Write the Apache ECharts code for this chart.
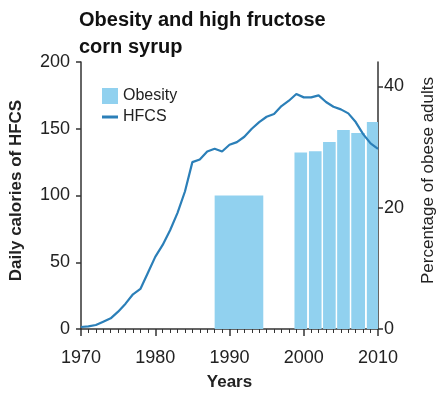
<!DOCTYPE html>
<html>
<head>
<meta charset="utf-8">
<script src="https://cdn.jsdelivr.net/npm/echarts@6/dist/echarts.min.js"></script>
<style>
  html, body { margin: 0; padding: 0; background: #fff; }
  #chart { width: 445px; height: 397px; }
</style>
</head>
<body>
<div id="chart"></div>
<script>
// HFCS daily calories, one value per year 1970..2010
const hfcsYears = [];
for (let y = 1970; y <= 2010; y++) hfcsYears.push(y);
const hfcsValues = [
    1.5, 2, 3, 5.5, 8, 13, 19, 26, 30, 42,
    54, 63, 74, 87, 103, 125, 127, 133, 135, 133,
    138, 140, 144, 150, 155, 159, 161, 167, 171, 176,
    173.5, 173.5, 175, 170, 166.5, 164.5, 161.5, 155, 146, 139,
    135
];

// obesity survey periods (start year, end year) and percentage
const obesityStart = [1988, 1998.75, 2000.7, 2002.6, 2004.5, 2006.4, 2008.5];
const obesityEnd = [1994.55, 2000.45, 2002.4, 2004.3, 2006.2, 2008.25, 2010];
const obesityValues = [22, 29.1, 29.3, 30.8, 32.8, 32.3, 34.1];

const xTicks = [1970, 1980, 1990, 2000, 2010];
const leftTicks = [0, 50, 100, 150, 200];
const rightTicks = [0, 20, 40];

const font = 'Liberation Sans, Arial, sans-serif';
const axisColor = '#333';
const textColor = '#222';
const barColor = '#91d1ef';
const lineColor = '#2b7fb8';

function getOption() {
    const lineData = hfcsYears.map((y, i) => [y, hfcsValues[i]]);
    const barData = obesityStart.map((s, i) => [s, obesityEnd[i], obesityValues[i]]);

    return {
        animation: false,
        textStyle: { fontFamily: font },
        title: {
            text: 'Obesity and high fructose\ncorn syrup',
            left: 74,
            top: 2,
            textStyle: {
                fontSize: 20,
                fontWeight: 'bold',
                color: '#111',
                lineHeight: 27,
                fontFamily: font,
            },
        },
        legend: [
            {
                left: 97,
                top: 83,
                itemWidth: 16,
                itemHeight: 16,
                textStyle: { fontSize: 16, color: textColor },
                data: [{ name: 'Obesity', icon: 'rect' }],
            },
            {
                left: 97,
                top: 104,
                itemWidth: 16,
                itemHeight: 3,
                textStyle: { fontSize: 16, color: textColor },
                data: [{ name: 'HFCS', icon: 'rect' }],
            },
        ],
        grid: {
            left: 76,
            right: 65,
            top: 62,
            bottom: 68,
        },
        xAxis: {
            type: 'value',
            min: 1970,
            max: 2010,
            interval: 10,
            name: 'Years',
            nameLocation: 'middle',
            nameGap: 45,
            nameTextStyle: { fontSize: 17, fontWeight: 'bold', color: textColor },
            axisLine: { lineStyle: { color: axisColor, width: 1.5 } },
            axisTick: { length: 7, lineStyle: { color: axisColor, width: 1.5 } },
            minorTick: { show: true, splitNumber: 10, length: 4, lineStyle: { color: axisColor } },
            splitLine: { show: false },
            axisLabel: {
                fontSize: 18, color: textColor, margin: 20,
                customValues: xTicks,
                formatter: v => String(v),
            },
        },
        yAxis: [
            {
                type: 'value',
                min: 0,
                max: 200,
                interval: 50,
                name: 'Daily calories of HFCS',
                nameLocation: 'middle',
                nameGap: 56,
                nameTextStyle: { fontSize: 17, fontWeight: 'bold', color: textColor, padding: [0, 0, 0, 10] },
                axisLine: { show: true, lineStyle: { color: axisColor, width: 1.5 } },
                axisTick: { show: true, length: 5, lineStyle: { color: axisColor, width: 1.5 } },
                splitLine: { show: false },
                axisLabel: { fontSize: 18, color: textColor, margin: 11, customValues: leftTicks },
            },
            {
                type: 'value',
                min: 0,
                max: 44,
                position: 'right',
                name: 'Percentage of obese adults',
                nameLocation: 'middle',
                nameGap: 42,
                nameRotate: 90,
                nameTextStyle: { fontSize: 17, color: textColor, padding: [0, 0, 0, 30] },
                axisLine: { show: true, lineStyle: { color: axisColor, width: 1.5 } },
                axisTick: { show: true, length: 5, customValues: rightTicks, lineStyle: { color: axisColor, width: 1.5 } },
                splitLine: { show: false },
                axisLabel: { fontSize: 18, color: textColor, margin: 6, customValues: rightTicks },
            },
        ],
        series: [
            {
                name: 'Obesity',
                type: 'custom',
                yAxisIndex: 1,
                itemStyle: { color: barColor },
                encode: { x: [0, 1], y: 2 },
                data: barData,
                z: 1,
                renderItem: function (params, api) {
                    const p0 = api.coord([api.value(0), api.value(2)]);
                    const p1 = api.coord([api.value(1), 0]);
                    return {
                        type: 'rect',
                        shape: { x: p0[0], y: p0[1], width: p1[0] - p0[0], height: p1[1] - p0[1] },
                        style: { fill: barColor },
                    };
                },
            },
            {
                name: 'HFCS',
                type: 'line',
                data: lineData,
                showSymbol: false,
                symbol: 'none',
                z: 5,
                lineStyle: { color: lineColor, width: 2.2 },
                itemStyle: { color: lineColor },
            },
        ],
    };
}

const chart = echarts.init(document.getElementById('chart'));
chart.setOption(getOption());
</script>
</body>
</html>
